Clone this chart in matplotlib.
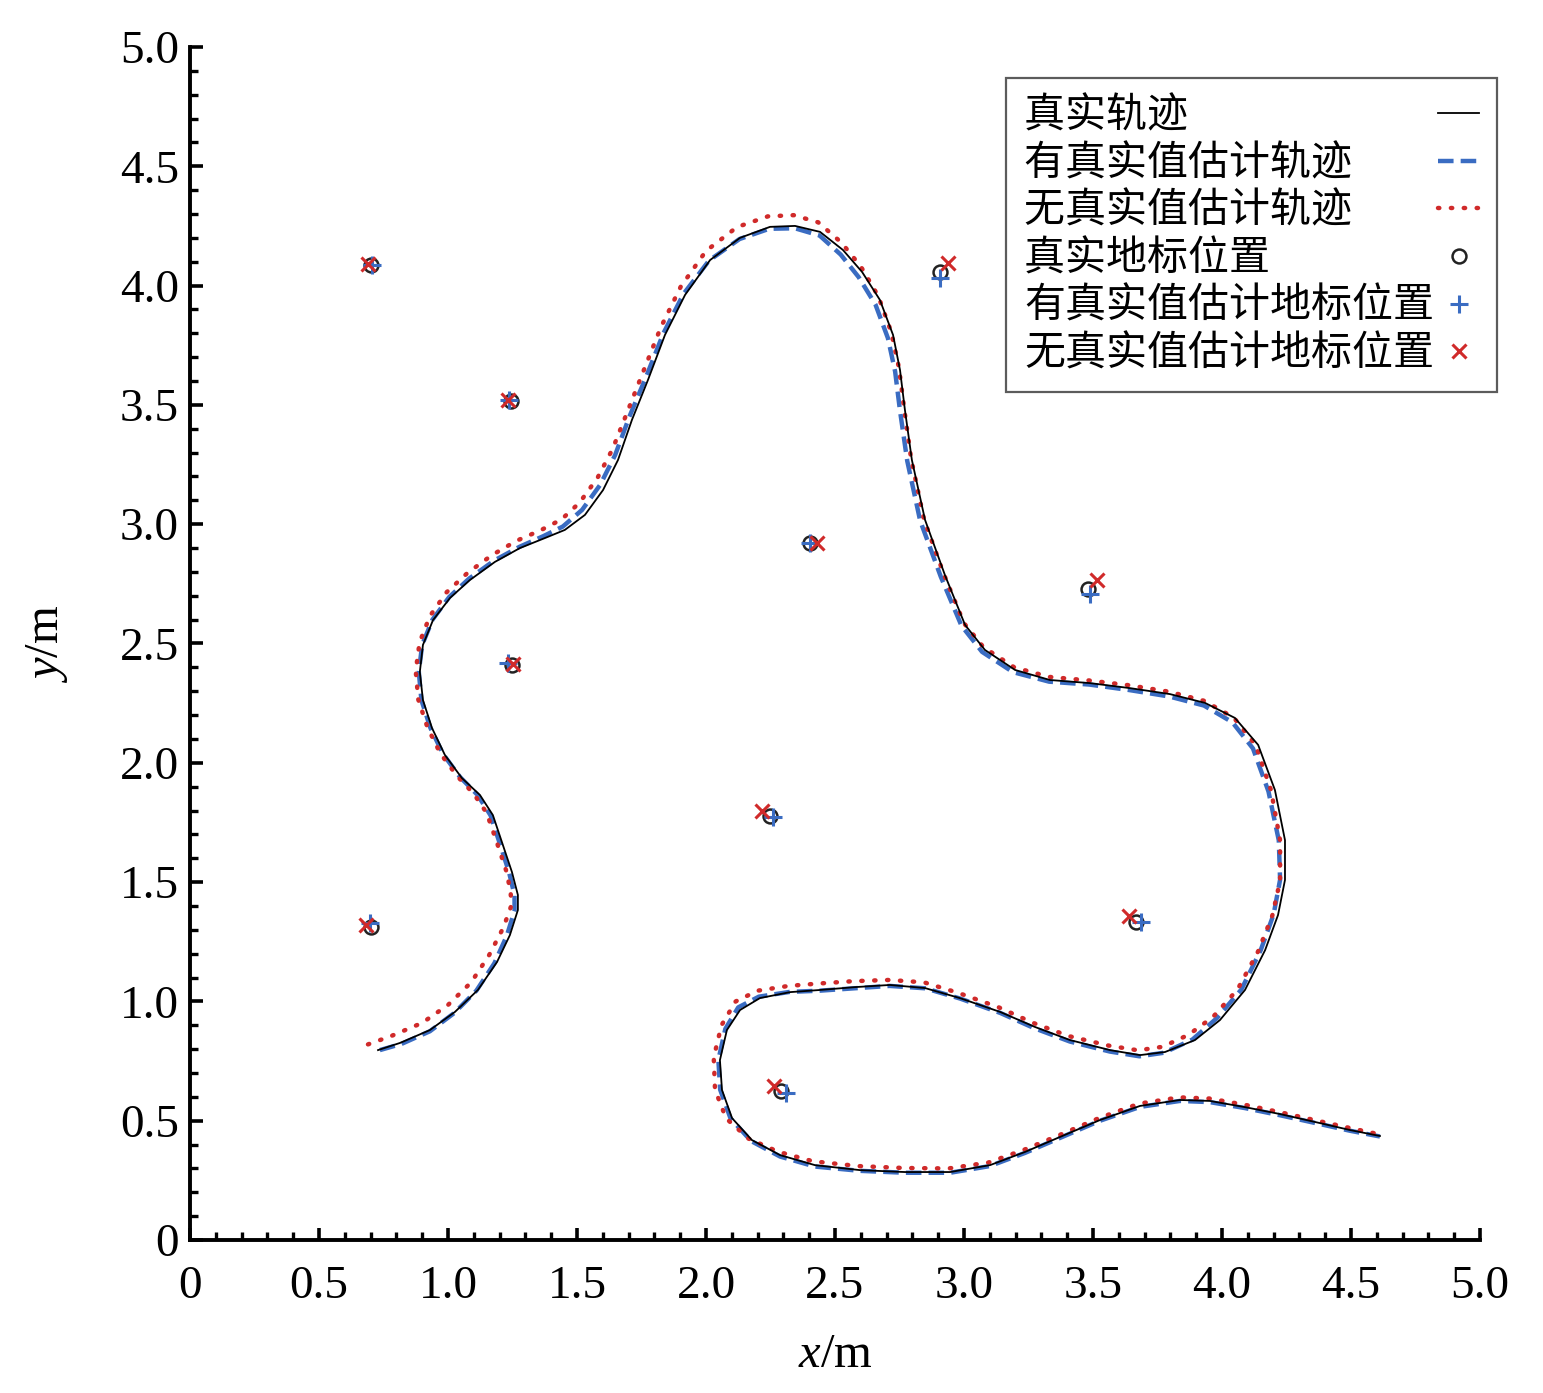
import matplotlib
matplotlib.use("Agg")
from matplotlib import pyplot as plt
from matplotlib.ticker import MultipleLocator, FuncFormatter

plt.rcParams['font.family'] = ['Liberation Serif', 'DejaVu Serif']
plt.rcParams['mathtext.fontset'] = 'custom'
plt.rcParams['mathtext.it'] = 'Liberation Serif:italic'
plt.rcParams['mathtext.rm'] = 'Liberation Serif'

# true trajectory
true_x = [0.729, 0.814, 0.930, 1.027, 1.116, 1.190, 1.240, 1.271, 1.271, 1.248,
          1.213, 1.174, 1.124, 1.054, 0.988, 0.938, 0.903, 0.891, 0.903, 0.942,
          1.008, 1.085, 1.182, 1.279, 1.376, 1.453, 1.531, 1.601, 1.659, 1.713,
          1.775, 1.841, 1.919, 2.016, 2.132, 2.248, 2.345, 2.442, 2.531, 2.605,
          2.674, 2.725, 2.752, 2.771, 2.798, 2.849, 2.926, 3.004, 3.081, 3.198,
          3.333, 3.488, 3.643, 3.798, 3.934, 4.050, 4.140, 4.205, 4.244, 4.244,
          4.217, 4.167, 4.089, 3.992, 3.895, 3.779, 3.682, 3.566, 3.411, 3.275,
          3.140, 2.984, 2.849, 2.713, 2.578, 2.442, 2.326, 2.209, 2.132, 2.081,
          2.054, 2.062, 2.101, 2.178, 2.287, 2.422, 2.597, 2.771, 2.946, 3.101,
          3.236, 3.372, 3.527, 3.682, 3.837, 3.953, 4.089, 4.225, 4.380, 4.496,
          4.612]
true_y = [0.796, 0.826, 0.880, 0.956, 1.048, 1.165, 1.278, 1.383, 1.446, 1.542,
          1.655, 1.781, 1.865, 1.936, 2.033, 2.146, 2.263, 2.381, 2.494, 2.598,
          2.691, 2.766, 2.842, 2.900, 2.942, 2.976, 3.039, 3.143, 3.269, 3.437,
          3.604, 3.793, 3.961, 4.107, 4.200, 4.246, 4.250, 4.225, 4.149, 4.057,
          3.940, 3.793, 3.646, 3.479, 3.269, 3.018, 2.787, 2.578, 2.473, 2.389,
          2.347, 2.334, 2.313, 2.288, 2.251, 2.188, 2.075, 1.886, 1.676, 1.509,
          1.362, 1.215, 1.048, 0.922, 0.838, 0.788, 0.775, 0.796, 0.838, 0.893,
          0.956, 1.014, 1.056, 1.069, 1.060, 1.048, 1.039, 1.014, 0.964, 0.880,
          0.754, 0.629, 0.511, 0.419, 0.356, 0.314, 0.293, 0.285, 0.285, 0.314,
          0.369, 0.432, 0.503, 0.562, 0.587, 0.583, 0.557, 0.528, 0.490, 0.461,
          0.436]

# estimate with true values
est1_x = [0.736, 0.820, 0.930, 1.025, 1.110, 1.180, 1.228, 1.258, 1.258, 1.237,
          1.203, 1.165, 1.115, 1.047, 0.982, 0.932, 0.897, 0.887, 0.900, 0.940,
          1.005, 1.082, 1.180, 1.277, 1.370, 1.445, 1.520, 1.590, 1.648, 1.703,
          1.767, 1.835, 1.913, 2.012, 2.130, 2.245, 2.345, 2.440, 2.522, 2.592,
          2.657, 2.705, 2.733, 2.752, 2.780, 2.830, 2.910, 2.990, 3.070, 3.190,
          3.330, 3.485, 3.640, 3.795, 3.930, 4.040, 4.120, 4.180, 4.220, 4.225,
          4.200, 4.150, 4.075, 3.980, 3.885, 3.775, 3.680, 3.565, 3.410, 3.272,
          3.140, 2.985, 2.850, 2.712, 2.575, 2.440, 2.325, 2.205, 2.125, 2.075,
          2.048, 2.055, 2.095, 2.175, 2.287, 2.422, 2.597, 2.771, 2.946, 3.100,
          3.236, 3.372, 3.527, 3.682, 3.837, 3.953, 4.089, 4.225, 4.380, 4.496,
          4.612]
est1_y = [0.796, 0.822, 0.875, 0.952, 1.045, 1.160, 1.275, 1.380, 1.445, 1.540,
          1.655, 1.780, 1.865, 1.940, 2.035, 2.146, 2.263, 2.381, 2.494, 2.600,
          2.695, 2.772, 2.848, 2.905, 2.950, 2.990, 3.060, 3.165, 3.290, 3.450,
          3.615, 3.800, 3.965, 4.105, 4.195, 4.238, 4.240, 4.210, 4.130, 4.035,
          3.920, 3.780, 3.640, 3.475, 3.265, 3.015, 2.780, 2.575, 2.465, 2.380,
          2.340, 2.328, 2.305, 2.278, 2.240, 2.170, 2.060, 1.880, 1.675, 1.510,
          1.365, 1.215, 1.050, 0.930, 0.840, 0.785, 0.770, 0.790, 0.832, 0.888,
          0.952, 1.012, 1.055, 1.065, 1.055, 1.045, 1.040, 1.020, 0.975, 0.885,
          0.755, 0.630, 0.510, 0.415, 0.350, 0.308, 0.290, 0.282, 0.282, 0.310,
          0.365, 0.428, 0.500, 0.558, 0.583, 0.578, 0.553, 0.523, 0.486, 0.458,
          0.434]

# estimate without true values
est2_x = [0.690, 0.780, 0.900, 1.000, 1.090, 1.160, 1.215, 1.245, 1.243, 1.225,
          1.190, 1.150, 1.100, 1.035, 0.970, 0.920, 0.885, 0.875, 0.890, 0.930,
          0.995, 1.075, 1.170, 1.265, 1.360, 1.440, 1.510, 1.580, 1.638, 1.695,
          1.757, 1.825, 1.902, 2.000, 2.120, 2.240, 2.340, 2.435, 2.525, 2.600,
          2.668, 2.718, 2.748, 2.768, 2.795, 2.845, 2.922, 3.000, 3.075, 3.195,
          3.330, 3.485, 3.640, 3.795, 3.930, 4.045, 4.130, 4.190, 4.225, 4.225,
          4.195, 4.140, 4.060, 3.965, 3.870, 3.770, 3.675, 3.560, 3.405, 3.268,
          3.135, 2.980, 2.845, 2.710, 2.573, 2.437, 2.320, 2.200, 2.115, 2.060,
          2.030, 2.035, 2.078, 2.165, 2.280, 2.415, 2.590, 2.765, 2.940, 3.095,
          3.232, 3.370, 3.525, 3.680, 3.835, 3.952, 4.088, 4.224, 4.378, 4.494,
          4.610]
est2_y = [0.820, 0.855, 0.910, 0.985, 1.080, 1.195, 1.310, 1.400, 1.460, 1.550,
          1.665, 1.790, 1.870, 1.945, 2.040, 2.150, 2.265, 2.385, 2.505, 2.615,
          2.715, 2.795, 2.870, 2.930, 2.975, 3.020, 3.090, 3.195, 3.315, 3.470,
          3.640, 3.825, 3.995, 4.145, 4.245, 4.290, 4.295, 4.265, 4.180, 4.080,
          3.955, 3.805, 3.655, 3.485, 3.275, 3.020, 2.790, 2.585, 2.485, 2.400,
          2.360, 2.345, 2.325, 2.298, 2.260, 2.190, 2.075, 1.885, 1.675, 1.505,
          1.360, 1.210, 1.050, 0.935, 0.860, 0.810, 0.795, 0.815, 0.855, 0.910,
          0.975, 1.035, 1.080, 1.090, 1.085, 1.075, 1.065, 1.045, 1.000, 0.900,
          0.765, 0.630, 0.510, 0.425, 0.370, 0.330, 0.310, 0.302, 0.300, 0.325,
          0.378, 0.440, 0.512, 0.572, 0.598, 0.593, 0.567, 0.536, 0.498, 0.470,
          0.443]

# landmarks
lm_true_x = [0.702, 1.244, 1.248, 0.702, 2.907, 2.403, 3.481, 2.248, 3.667, 2.291]
lm_true_y = [4.086, 3.516, 2.410, 1.312, 4.057, 2.921, 2.728, 1.777, 1.333, 0.624]
lm_est1_x = [0.705, 1.236, 1.233, 0.698, 2.907, 2.403, 3.488, 2.260, 3.686, 2.310]
lm_est1_y = [4.088, 3.520, 2.418, 1.329, 4.032, 2.921, 2.707, 1.773, 1.333, 0.616]
lm_est2_x = [0.692, 1.233, 1.252, 0.682, 2.938, 2.430, 3.516, 2.217, 3.640, 2.264]
lm_est2_y = [4.090, 3.520, 2.414, 1.320, 4.095, 2.921, 2.766, 1.798, 1.358, 0.645]

labels = ['真实轨迹', '有真实值估计轨迹', '无真实值估计轨迹',
          '真实地标位置', '有真实值估计地标位置', '无真实值估计地标位置']

blue = '#3a6cc2'
red = '#d02a2a'

# pad labels with ideographic spaces so text is left aligned, handles on the right
width = max(len(l) for l in labels)
padded = [l + '\u3000' * (width - len(l)) for l in labels]

fig = plt.figure(figsize=(15.43, 13.93), dpi=100)
ax = fig.add_axes([0.1231, 0.1098, 0.8361, 0.8565])

ax.plot(true_x, true_y, color='black', lw=1.3, label=padded[0], zorder=3)
ax.plot(est1_x, est1_y, color=blue, lw=3.2, linestyle=(0, (3.5, 1.6)),
        label=padded[1], zorder=2)
ax.plot(est2_x, est2_y, color=red, lw=3.2, linestyle=(0, (0.3, 2.6)),
        dash_capstyle='round', label=padded[2], zorder=2)
ax.plot(lm_true_x, lm_true_y, 'o', ms=10, mfc='none', mec='#222222', mew=1.8,
        label=padded[3], zorder=4)
ax.plot(lm_est1_x, lm_est1_y, '+', ms=13, color=blue, mew=2.2,
        label=padded[4], zorder=5)
ax.plot(lm_est2_x, lm_est2_y, 'x', ms=10, color=red, mew=2.2,
        label=padded[5], zorder=5)

ax.set_xlim(0, 5)
ax.set_ylim(0, 5)
for s in ['top', 'right']:
    ax.spines[s].set_visible(False)
for s in ['left', 'bottom']:
    ax.spines[s].set_linewidth(2.8)

ax.xaxis.set_major_locator(MultipleLocator(0.5))
ax.yaxis.set_major_locator(MultipleLocator(0.5))
ax.xaxis.set_minor_locator(MultipleLocator(0.1))
ax.yaxis.set_minor_locator(MultipleLocator(0.1))
fmt = FuncFormatter(lambda v, p: '0' if abs(v) < 1e-9 else '%.1f' % v)
ax.xaxis.set_major_formatter(fmt)
ax.yaxis.set_major_formatter(fmt)
ax.tick_params(which='major', direction='in', length=9, width=2.6,
               labelsize=34, top=False, right=False)
ax.tick_params(which='minor', direction='in', length=6, width=2.4,
               top=False, right=False)
ax.tick_params(axis='x', which='major', pad=18)
ax.tick_params(axis='y', which='major', pad=8)

ax.set_xlabel('$x$/m', fontsize=35, labelpad=18)
ax.set_ylabel('$y$/m', fontsize=35, labelpad=36)

leg = ax.legend(loc='upper right', bbox_to_anchor=(0.970, 0.944),
                bbox_transform=fig.transFigure, borderaxespad=0,
                markerfirst=False, frameon=True, fancybox=False,
                edgecolor='#333333', handlelength=1.0, handletextpad=0.1,
                labelspacing=0.16, borderpad=0.43,
                prop={'family': ['Noto Sans CJK SC', 'DejaVu Sans'], 'size': 29.5})
leg.get_frame().set_linewidth(1.6)

fig.savefig('out.png', dpi=100, facecolor='white')
